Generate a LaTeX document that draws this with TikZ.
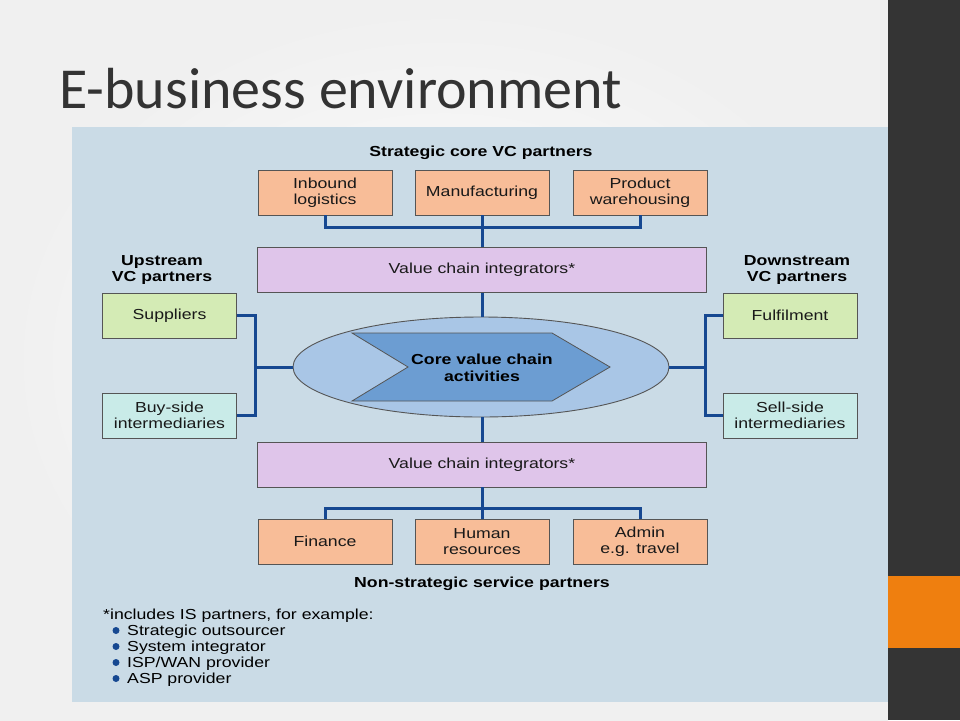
\documentclass[tikz,border=0pt]{standalone}
\usepackage{fontspec}
\usetikzlibrary{shapes.geometric}
\setmainfont{Liberation Sans}
\newfontfamily\df[FakeStretch=1.22]{Liberation Sans}
\newfontfamily\tf{Carlito}
\definecolor{panel}{RGB}{202,219,230}
\definecolor{darkbar}{RGB}{52,52,52}
\definecolor{orangebar}{RGB}{239,127,15}
\definecolor{peach}{RGB}{248,189,152}
\definecolor{lilac}{RGB}{223,197,234}
\definecolor{lgreen}{RGB}{212,235,181}
\definecolor{lcyan}{RGB}{201,235,232}
\definecolor{ellfill}{RGB}{169,198,230}
\definecolor{chevfill}{RGB}{108,157,210}
\definecolor{linkblue}{RGB}{22,72,145}
\definecolor{edge}{RGB}{85,85,85}
\definecolor{titlegray}{RGB}{51,51,51}
\tikzset{
  box/.style={draw=edge, line width=0.9pt, minimum width=134pt, minimum height=45pt,
    align=center, font=\df\fontsize{14.5}{16.5}\selectfont, inner sep=0pt, text=black!90},
  corebox/.style={box, fill=peach},
  intbox/.style={box, fill=lilac, minimum width=449pt},
  upbox/.style={box, fill=lgreen},
  midbox/.style={box, fill=lcyan},
  link/.style={draw=linkblue, line width=3pt},
  grouplabel/.style={align=center, font=\df\bfseries\fontsize{14.5}{16.5}\selectfont},
  note/.style={anchor=base west, font=\df\fontsize{14.5}{16}\selectfont, inner sep=0pt},
  dot/.style={circle, fill=linkblue, minimum size=7pt, inner sep=0pt}
}
\begin{document}
\begin{tikzpicture}[x=1pt,y=-1pt]
\useasboundingbox (0,0) rectangle (960,720);
% slide background
\shade[inner color=white, outer color=gray!12] (0,0) rectangle (888,720);
\fill[darkbar] (888,0) rectangle (960,720);
\fill[orangebar] (888,576) rectangle (960,648);
% title
\node[anchor=base west, inner sep=0pt, text=titlegray, font=\tf\fontsize{58}{58}\selectfont] (title) at (59,108) {E-business environment};
% panel
\fill[panel] (72,127) rectangle (888,702);

% labels
\node[grouplabel] (lstrat) at (481,153) {Strategic core VC partners};
\node[grouplabel] (lup) at (162,270) {Upstream\\VC partners};
\node[grouplabel] (ldown) at (797,270) {Downstream\\VC partners};
\node[grouplabel] (lnon) at (482,584) {Non-strategic service partners};

% top boxes
\node[corebox] (inb) at (325,192.5) {Inbound\\logistics};
\node[corebox] (man) at (482,192.5) {Manufacturing};
\node[corebox] (prod) at (640,192.5) {Product\\warehousing};
\node[intbox] (vci1) at (482,270) {Value chain integrators*};

% side boxes
\node[upbox] (sup) at (169.5,315.5) {Suppliers};
\node[midbox] (buy) at (169.5,415.5) {Buy-side\\intermediaries};
\node[upbox] (ful) at (790,315.5) {Fulfilment};
\node[midbox] (sell) at (790,415.5) {Sell-side\\intermediaries};

% core ellipse and chevron
\node[ellipse, draw=edge, line width=0.9pt, fill=ellfill, minimum width=376pt, minimum height=100pt] (ell) at (481,367) {};
\filldraw[fill=chevfill, draw=edge, line width=0.8pt] (352,333) -- (552,333) -- (610,367) -- (552,401) -- (352,401) -- (408,367) -- cycle;
\node[grouplabel] (core) at (482,368) {Core value chain\\activities};

% bottom boxes
\node[intbox] (vci2) at (482,464.5) {Value chain integrators*};
\node[corebox] (fin) at (325,541.5) {Finance};
\node[corebox] (hr) at (482,541.5) {Human\\resources};
\node[corebox] (adm) at (640,541.5) {Admin\\e.g. travel};

% connectors
\coordinate (tb) at (482,227);
\coordinate (bb) at (482,508);
\coordinate (lj) at (255,367);
\coordinate (rj) at (705,367);
\draw[link] (inb.south) |- (tb) -| (prod.south);
\draw[link] (man.south) -- (vci1.north);
\draw[link] (vci1.south) -- (vci1.south |- ell.north);
\draw[link] (vci2.north) -- (vci2.north |- ell.south);
\draw[link] (vci2.south) -- (hr.north);
\draw[link] (fin.north) |- (bb) -| (adm.north);
\draw[link] (sup.east) -| (lj) |- (buy.east);
\draw[link] (lj) -- (ell.west);
\draw[link] (ful.west) -| (rj) |- (sell.west);
\draw[link] (rj) -- (ell.east);

% footnote
\node[note] (fn) at (103,619) {*includes IS partners, for example:};
\node[note] (i1) at (127,635) {Strategic outsourcer};
\node[note] (i2) at (127,651) {System integrator};
\node[note] (i3) at (127,667) {ISP/WAN provider};
\node[note] (i4) at (127,683) {ASP provider};
\node[dot] (d1) at ([shift={(-11,-4.5)}]i1.base west) {};
\node[dot] (d2) at ([shift={(-11,-4.5)}]i2.base west) {};
\node[dot] (d3) at ([shift={(-11,-4.5)}]i3.base west) {};
\node[dot] (d4) at ([shift={(-11,-4.5)}]i4.base west) {};
\end{tikzpicture}
\end{document}
